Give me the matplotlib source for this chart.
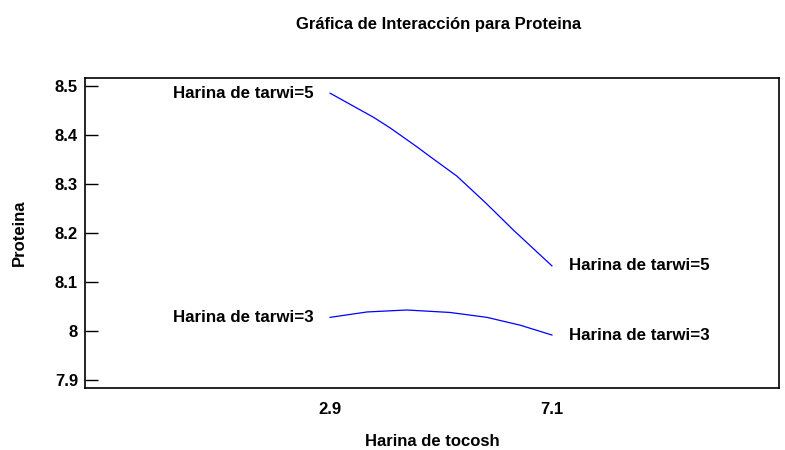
import matplotlib
matplotlib.use("Agg")
import matplotlib.pyplot as plt

plt.rcParams['font.family'] = ['Liberation Sans', 'DejaVu Sans']
plt.rcParams['font.weight'] = 'bold'

# Harina de tocosh levels and values
x_levels = [2.9, 7.1]
tarwi5_x = [2.9, 3.72, 4.04, 4.54, 4.79, 5.3, 5.84, 6.37, 7.1]
tarwi5_y = [8.485, 8.436, 8.414, 8.376, 8.356, 8.316, 8.262, 8.206, 8.133]
tarwi3_x = [2.9, 3.6, 4.35, 5.17, 5.87, 6.5, 7.1]
tarwi3_y = [8.028, 8.039, 8.043, 8.038, 8.028, 8.012, 7.992]
labels = ["Harina de tarwi=5", "Harina de tarwi=3"]
y_ticks = [7.9, 8.0, 8.1, 8.2, 8.3, 8.4, 8.5]
y_ticklabels = ["7.9", "8", "8.1", "8.2", "8.3", "8.4", "8.5"]

fig = plt.figure(figsize=(7.85, 4.5), dpi=100)
ax = fig.add_axes([0.1083, 0.1378, 0.8841, 0.6889])

for xs, ys, lab in [(tarwi5_x, tarwi5_y, labels[0]), (tarwi3_x, tarwi3_y, labels[1])]:
    ax.plot(xs, ys, color='blue', linewidth=0.9)
    ax.annotate(lab, (xs[0], ys[0]), xytext=(-12, 0), textcoords='offset points',
                ha='right', va='center', fontsize=12.2, fontweight='bold')
    ax.annotate(lab, (xs[-1], ys[-1]), xytext=(12, 0), textcoords='offset points',
                ha='left', va='center', fontsize=12.2, fontweight='bold')

ax.set_xlim(-1.74, 11.4)
ax.set_ylim(7.884, 8.516)
ax.set_xticks(x_levels)
ax.set_xticklabels(["2.9", "7.1"])
ax.set_yticks(y_ticks)
ax.set_yticklabels(y_ticklabels)
ax.tick_params(axis='x', length=0, pad=10, labelsize=12)
ax.tick_params(axis='y', direction='in', length=9.5, width=1, pad=5, labelsize=12)
for s in ax.spines.values():
    s.set_linewidth(1.2)

ax.set_title("Gráfica de Interacción para Proteina", fontsize=12, fontweight='bold',
             x=0.51, y=1.13)
ax.set_xlabel("Harina de tocosh", fontsize=12, fontweight='bold', labelpad=12)
ax.set_ylabel("Proteina", fontsize=12, fontweight='bold', labelpad=20)

fig.savefig("out.png", dpi=100)
